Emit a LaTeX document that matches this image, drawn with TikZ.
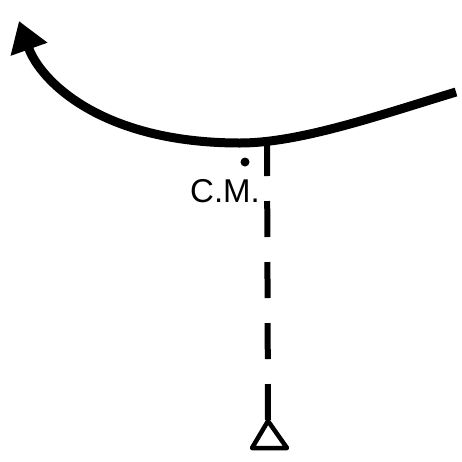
\documentclass[tikz,border=0pt]{standalone}
\usepackage{fontspec}
\setmainfont{Liberation Sans}
\usepackage{tikz}
\usetikzlibrary{arrows.meta,positioning,calc}

\begin{document}
\begin{tikzpicture}[x=1pt,y=-1pt,line join=round]
  \tikzset{swing/.style={line width=9pt,-{Triangle[length=30pt,width=37pt]}},
           plumb/.style={line width=6pt,dash pattern=on 36pt off 25pt},
           pivotline/.style={line width=4.5pt}}
  \useasboundingbox (0,0) rectangle (462,461);
  \coordinate (start) at (456,92);
  \coordinate (low) at (240,143);
  \coordinate (tip) at (19,21);
  \coordinate (top) at (267,140);
  \coordinate (pivot) at (268,421);
  \coordinate (dot) at (245,162);
  \node[anchor=base,font=\fontsize{33}{36}\selectfont,inner sep=0pt] (cm) at (225,202) {C.M.};
  \draw[swing] (start) .. controls (380,115) and (300,143) .. (low)
                       .. controls (100,143) and (40,80) .. (tip);
  \draw[plumb] (top) -- (pivot);
  \draw[pivotline] (pivot) -- ++(-16,27) -- ++(35,0) -- cycle;
  \fill (dot) circle (4.5pt);
\end{tikzpicture}
\end{document}
